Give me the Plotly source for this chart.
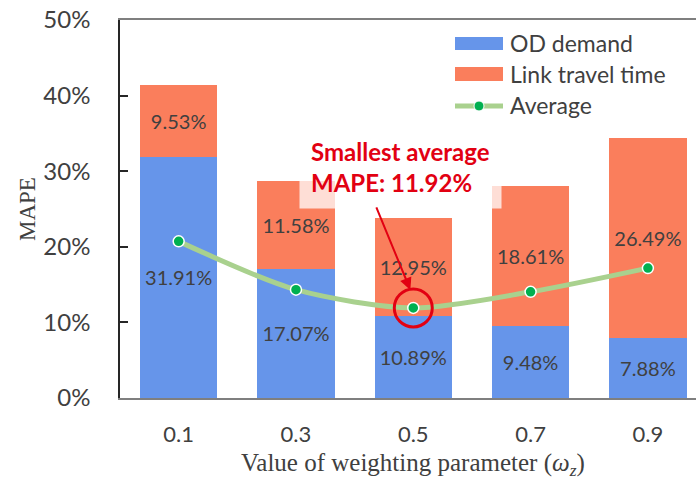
import plotly.graph_objects as go

# Weighting parameter values (categories)
weights = ["0.1", "0.3", "0.5", "0.7", "0.9"]
# MAPE components (%)
od_demand = [31.91, 17.07, 10.89, 9.48, 7.88]
link_travel_time = [9.53, 11.58, 12.95, 18.61, 26.49]
# Average MAPE of the two components
average = [(a + b) / 2 for a, b in zip(od_demand, link_travel_time)]

y_ticks = [0, 10, 20, 30, 40, 50]
y_tick_labels = ["0%", "10%", "20%", "30%", "40%", "50%"]

BLUE = "rgb(102,149,234)"
ORANGE = "rgb(250,126,92)"
GREEN_LINE = "rgb(169,209,142)"
GREEN_DOT = "rgb(0,176,80)"
RED = "rgb(226,0,18)"
TEXT = "#404040"
SANS = "Lato, 'Open Sans', sans-serif"
SERIF = "'Liberation Serif', 'DejaVu Serif', serif"

W, H = 696, 479
ML, MR, MT, MB = 120, 0, 20, 81

fig = go.Figure()

fig.add_trace(go.Bar(
    x=weights, y=od_demand, name="OD demand",
    marker=dict(color=BLUE, line=dict(width=0)),
    text=[f"{v:.2f}%" for v in od_demand],
    textposition="inside", insidetextanchor="middle",
    textfont=dict(family=SANS, size=20, color=TEXT),
    showlegend=False,
))
fig.add_trace(go.Bar(
    x=weights, y=link_travel_time, name="Link travel time",
    marker=dict(color=ORANGE, line=dict(width=0)),
    text=[f"{v:.2f}%" for v in link_travel_time],
    textposition="inside", insidetextanchor="middle",
    textfont=dict(family=SANS, size=20, color=TEXT),
    showlegend=False,
))
fig.add_trace(go.Scatter(
    x=weights, y=average, name="Average", mode="lines+markers",
    line=dict(color=GREEN_LINE, width=5, shape="spline", smoothing=0.8),
    marker=dict(color=GREEN_DOT, size=11, line=dict(color="white", width=1.5)),
    showlegend=False,
))

# Highlight the minimum average
i_min = min(range(len(average)), key=lambda i: average[i])

shapes = [
    dict(type="circle", xref="x", yref="y", xsizemode="pixel", ysizemode="pixel",
         xanchor=i_min, yanchor=average[i_min],
         x0=-19, x1=19, y0=-19, y1=19,
         line=dict(color=RED, width=3), layer="above"),
]

# Hand-drawn legend (wide swatches)
def px_x(p):
    return (p - ML) / (W - ML - MR)

def px_y(p):
    return (H - MB - p) / (H - MT - MB)

sw_x0, sw_x1 = px_x(455), px_x(503)
shapes += [
    dict(type="rect", xref="paper", yref="paper", x0=sw_x0, x1=sw_x1,
         y0=px_y(50), y1=px_y(37), fillcolor=BLUE, line=dict(width=0)),
    dict(type="rect", xref="paper", yref="paper", x0=sw_x0, x1=sw_x1,
         y0=px_y(81), y1=px_y(67), fillcolor=ORANGE, line=dict(width=0)),
    dict(type="line", xref="paper", yref="paper", x0=sw_x0, x1=sw_x1,
         y0=px_y(106), y1=px_y(106), line=dict(color=GREEN_LINE, width=5)),
    dict(type="circle", xref="paper", yref="paper", xsizemode="pixel", ysizemode="pixel",
         xanchor=(sw_x0 + sw_x1) / 2, yanchor=px_y(106),
         x0=-5, x1=5, y0=-5, y1=5,
         fillcolor=GREEN_DOT, line=dict(color="white", width=1)),
]

annotations = []
for label, py in [("OD demand", 43), ("Link travel time", 74), ("Average", 105)]:
    annotations.append(dict(
        xref="paper", yref="paper", x=px_x(508), y=px_y(py),
        xanchor="left", yanchor="middle", showarrow=False, text=label,
        font=dict(family=SANS, size=23, color=TEXT)))

# Callout text with translucent box
annotations.append(dict(
    xref="x", yref="y", x=1.89, y=30.6, xanchor="center", yanchor="middle",
    text=f"<b>Smallest average<br>MAPE: {average[i_min]:.2f}%</b>",
    align="left", showarrow=False,
    font=dict(family=SANS, size=24, color=RED),
    bgcolor="rgba(255,255,255,0.75)", borderpad=11))

# Arrow from callout to the minimum point
annotations.append(dict(
    xref="x", yref="y", x=1.975, y=14.3, axref="x", ayref="y", ax=1.68, ay=25.4,
    text="", showarrow=True, arrowhead=2, arrowsize=1.2, arrowwidth=2,
    arrowcolor=RED))

# Axis titles
annotations.append(dict(
    xref="paper", yref="paper", x=px_x(27), y=0.5, textangle=-90,
    xanchor="center", yanchor="middle", showarrow=False, text="MAPE",
    font=dict(family=SERIF, size=23, color=TEXT)))
annotations.append(dict(
    xref="x", yref="paper", x=2, y=px_y(464),
    xanchor="center", yanchor="middle", showarrow=False,
    text="Value of weighting parameter (<i>ω<sub>z</sub></i>)",
    font=dict(family=SERIF, size=25, color=TEXT)))

fig.update_layout(
    width=W, height=H,
    margin=dict(l=ML, r=MR, t=MT, b=MB),
    paper_bgcolor="white", plot_bgcolor="white",
    barmode="stack", bargap=0.34,
    shapes=shapes, annotations=annotations,
    showlegend=False,
)
fig.update_xaxes(
    range=[-0.5, 4.41], showgrid=False, zeroline=False,
    showline=True, linecolor="#7f7f7f", linewidth=1.5, mirror=True,
    ticks="", ticklabelstandoff=16,
    tickfont=dict(family=SANS, size=22, color=TEXT),
)
fig.update_yaxes(
    range=[0, 50], tickvals=y_ticks, ticktext=y_tick_labels,
    showgrid=False, zeroline=False,
    showline=True, linecolor="#262626", linewidth=1.5,
    ticks="inside", ticklen=8, tickcolor="#262626", tickwidth=1.5,
    ticklabelstandoff=23,
    tickfont=dict(family=SANS, size=24, color=TEXT),
)

fig.write_html("out.html")
